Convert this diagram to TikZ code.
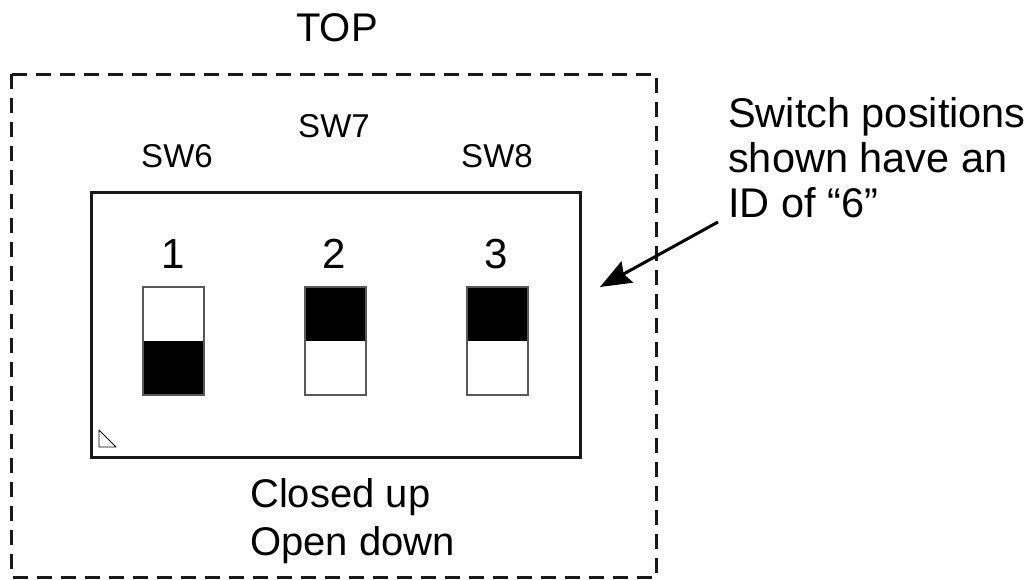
\documentclass[tikz,border=0pt]{standalone}
\usepackage{fontspec}
\setmainfont{Liberation Sans}
\usetikzlibrary{arrows.meta}
\begin{document}
\begin{tikzpicture}[x=1pt,y=-1pt,
  frame/.style={draw=black!90, line width=3pt, dash pattern=on 15pt off 9pt},
  board/.style={draw=black!90, line width=3pt},
  lever/.style={draw=black!65, line width=1.2pt},
  lbl/.style={font=\fontsize{33}{38}\selectfont, inner sep=0pt, anchor=base},
  num/.style={font=\fontsize{42}{46}\selectfont, inner sep=0pt, anchor=base},
  big/.style={font=\fontsize{40}{48}\selectfont, inner sep=0pt, align=left}]
\useasboundingbox (0,0) rectangle (1029,579);
\fill[white] (0,0) rectangle (1029,579);

% outline of the unit
\draw[frame] (11.5,74) rectangle (656,577);
% switch housing
\draw[board] (91.5,192) rectangle (580,457.5);

\node[big, anchor=base] (top) at (337,41) {TOP};

\node[lbl] (sw6) at (177,167) {SW6};
\node[lbl] (sw7) at (334,137) {SW7};
\node[lbl] (sw8) at (497,167) {SW8};

\node[num] (n1) at (173,268) {1};
\node[num] (n2) at (334,268) {2};
\node[num] (n3) at (496,268) {3};

% switch 1: lever down
\fill[black] (143,341) rectangle (204,395);
\draw[lever] (143,287) rectangle (204,395);
% switch 2: lever up
\fill[black] (305,287) rectangle (366,341);
\draw[lever] (305,287) rectangle (366,395);
% switch 3: lever up
\fill[black] (467,287) rectangle (528,341);
\draw[lever] (467,287) rectangle (528,395);

% pin-1 marker
\draw[line width=0.9pt, line join=round] (99,430) -- (99,447) -- (116,447) -- cycle;

% the base anchor of a multi-line node sits on its last line
\node[big, font=\fontsize{41.5}{45}\selectfont, anchor=base west] (note) at (728,217)
  {Switch positions\\shown have an\\ID of “6”};
\coordinate (tip) at (600,287);
\draw[line width=3pt, -{Stealth[length=31pt,width=24pt,inset=4pt]}] (718,222) -- (tip);

\node[big, anchor=base west] (legend) at (250,555) {Closed up\\Open down};
\end{tikzpicture}
\end{document}
